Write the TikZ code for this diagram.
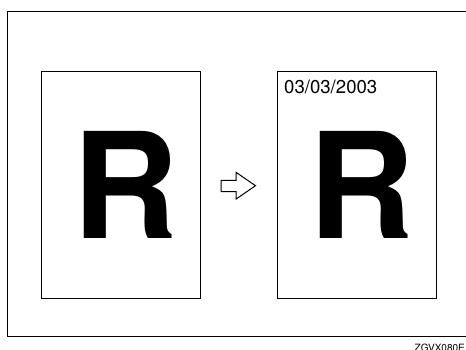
\documentclass[tikz,border=0pt]{standalone}
\usepackage{fontspec}
\setmainfont{TeX Gyre Heros}
\begin{document}
\begin{tikzpicture}[x=1pt,y=-1pt,
  page/.style={draw,line width=1pt,minimum width=159.4pt,minimum height=227pt,inner sep=0pt},
  bigr/.style={font=\bfseries\fontsize{147}{147}\selectfont,inner sep=0pt},
  frame/.style={draw,line width=1pt}]
\clip (0,0) rectangle (466,349);
\fill[white] (0,0) rectangle (466,349);
\draw[frame] (7.3,11) rectangle (480,336);
\node[page] (left) at (121,185.2) {};
\node[page] (right) at (357,185.2) {};
\node[bigr] (r1) at (125.3,185) {R};
\node[bigr] (r2) at (361.3,185) {R};
\node[anchor=base west,inner sep=0pt,font=\fontsize{18.6}{18.6}\selectfont] (date) at (284,93.8) {03/03/2003};
\draw[line width=1pt,line join=miter] (221,180.3) -- (236,180.3) -- (236,172.3) -- (255.5,185.7) -- (236,199.1) -- (236,191.7) -- (221,191.7) -- cycle;
\node[anchor=base west,inner sep=0pt,font=\fontsize{10}{10}\selectfont] (code) at (414.5,351.5) {ZGVX080E};
\end{tikzpicture}
\end{document}
